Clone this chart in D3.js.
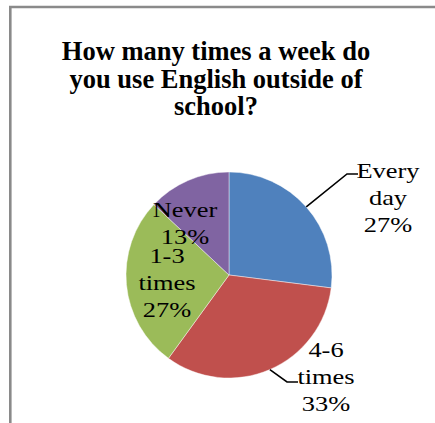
<!DOCTYPE html>
<html><head><meta charset="utf-8">
<script src="https://cdn.jsdelivr.net/npm/d3@7/dist/d3.min.js"></script>
</head>
<body style="margin:0">
<svg id="s" width="435" height="423"></svg>
<script>
// Survey answers and their shares (percent)
const categories = ["Every day", "4-6 times", "1-3 times", "Never"];
const values = [27, 33, 27, 13];
const colors = ["#4F81BD", "#C0504D", "#9BBB59", "#8064A2"];
const labelLines = [
  ["Every", "day", "27%"],
  ["4-6", "times", "33%"],
  ["1-3", "times", "27%"],
  ["Never", "13%"]
];
const titleLines = ["How many times a week do", "you use English outside of", "school?"];

const W = 435, H = 423;
const svg = d3.select("#s");
const serifFamily = () => '"Times New Roman", "Liberation Serif", Tinos';

// chart frame (left and top edges visible)
svg.append("path")
  .attr("d", `M10.3,${H} L10.3,7 L${W},7`)
  .attr("fill", "none")
  .attr("stroke", "#8a8a8a")
  .attr("stroke-width", 2.6);

// title, one text per line
svg.selectAll("text.title")
  .data(titleLines)
  .join("text")
  .attr("class", "title")
  .attr("x", 216)
  .attr("y", (d, i) => 60 + i * 27.5)
  .style("font-family", serifFamily)
  .style("font-size", "26.5px")
  .style("font-weight", "700")
  .style("text-anchor", "middle")
  .text(d => d);

// pie
const cx = 229, cy = 275, r = 103;
const pie = d3.pie().sort(null).value(d => d)(values);
const arc = d3.arc().innerRadius(0).outerRadius(r);
svg.append("g")
  .attr("transform", `translate(${cx},${cy})`)
  .selectAll("path")
  .data(pie)
  .join("path")
  .attr("d", arc)
  .attr("fill", (d, i) => colors[i])
  .attr("stroke", "rgba(255,255,255,0.55)")
  .attr("stroke-width", 0.8);

// label placement (center of text block, first baseline) and leader elbows
const labelLayout = [
  { x: 388, y: 178, elbow: [347, 174], end: 358 },
  { x: 326, y: 357, elbow: [287, 382], end: 298 },
  { x: 167, y: 263 },
  { x: 185, y: 217 }
];
const lineGap = 27;
const outer = d3.arc().innerRadius(r).outerRadius(r);

pie.forEach((p, i) => {
  const L = labelLayout[i];
  if (L.elbow) {
    const [sx, sy] = outer.centroid(p);
    svg.append("polyline")
      .attr("points", [[cx + sx, cy + sy], L.elbow, [L.end, L.elbow[1]]].map(q => q.join(",")).join(" "))
      .attr("fill", "none")
      .attr("stroke", "#000")
      .attr("stroke-width", 1.6);
  }
  // each label line is its own text, stretched slightly wider
  svg.selectAll(`text.lab${i}`)
    .data(labelLines[i])
    .join("text")
    .attr("class", `lab${i}`)
    .attr("transform", (d, j) => `translate(${L.x},${L.y + j * lineGap}) scale(1.2,1)`)
    .style("font-family", serifFamily)
    .style("font-size", "22px")
    .style("text-anchor", "middle")
    .text(d => d);
});
</script></body></html>
